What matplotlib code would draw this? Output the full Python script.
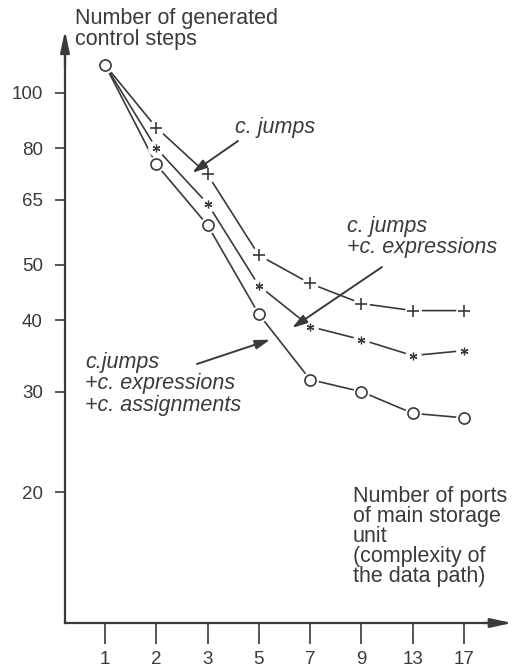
import matplotlib
matplotlib.use('Agg')
import matplotlib.pyplot as plt
from matplotlib.ticker import NullLocator
import numpy as np

# ---- data ----
ports = ['1', '2', '3', '5', '7', '9', '13', '17']
steps_jumps = [112, 87, 72, 52, 46.4, 42.8, 41.6, 41.6]
steps_jumps_expr = [112, 80, 64, 46, 39, 37, 34.7, 35.4]
steps_all = [112, 75, 58.7, 41, 31.5, 30, 27.5, 27]
ytick_vals = [20, 30, 40, 50, 65, 80, 100]
ytick_labels = ['20', '30', '40', '50', '65', '80', '100']

plt.rcParams['font.family'] = ['Liberation Sans', 'DejaVu Sans']
INK = '#3a3a3a'
W, H = 512, 667

fig = plt.figure(figsize=(W / 100, H / 100), dpi=100)
ax = fig.add_axes([65 / W, (H - 623) / H, (505 - 65) / W, (623 - 40) / H])
ax.set_yscale('log')
ax.set_ylim(11.81, 123.8)
ax.set_xlim(-0.78, 7.8)

x = np.arange(len(ports))
series = [
    (steps_jumps, dict(marker='+', ms=9, mew=1.2, mec=INK)),
    (steps_jumps_expr, dict(marker=(6, 2, 0), ms=5.5, mew=0.9, mec=INK)),
    (steps_all, dict(marker='o', ms=8, mew=1.2, mec=INK, mfc='white')),
]
for vals, _ in series:
    ax.plot(x, vals, color=INK, lw=1.2, zorder=1, solid_capstyle='butt')
for vals, _ in series:
    ax.plot(x, vals, ls='none', marker='o', ms=12, mfc='white', mec='none', zorder=2)
for vals, st in series:
    ax.plot(x, vals, ls='none', zorder=3, **st)

# axes styling
for s in ['top', 'right']:
    ax.spines[s].set_visible(False)
for s in ['left', 'bottom']:
    ax.spines[s].set_linewidth(1.6)
    ax.spines[s].set_color(INK)

ax.set_yticks(ytick_vals)
ax.set_yticklabels(ytick_labels)
ax.yaxis.set_minor_locator(NullLocator())
ax.set_xticks(x)
ax.set_xticklabels(ports)
ax.tick_params(axis='y', direction='out', length=7, width=1.2, pad=9,
               labelsize=13.5, colors=INK)
ax.tick_params(axis='x', direction='out', length=15, width=1.2, pad=5,
               labelsize=13.5, colors=INK)

# axis arrow heads
arrow_kw = dict(arrowstyle='-|>,head_length=1.3,head_width=0.28', color=INK,
                lw=1.6, shrinkA=0, shrinkB=0)
ax.annotate('', xy=(0, 1.016), xytext=(0, 0.95), xycoords='axes fraction',
            textcoords='axes fraction', arrowprops=arrow_kw, annotation_clip=False)
ax.annotate('', xy=(1.016, 0), xytext=(0.95, 0), xycoords='axes fraction',
            textcoords='axes fraction', arrowprops=arrow_kw, annotation_clip=False)


def fp(px, py):
    return px / W, 1 - py / H


FS = 15.5
fig.text(*fp(75, 8), 'Number of generated\ncontrol steps', fontsize=FS,
         color=INK, ha='left', va='top', linespacing=1.0)
fig.text(*fp(353, 486), 'Number of ports\nof main storage\nunit\n(complexity of\nthe data path)',
         fontsize=FS, color=INK, ha='left', va='top', linespacing=0.93)
fig.text(*fp(235, 117), 'c. jumps', fontsize=FS, color=INK, style='italic',
         ha='left', va='top')
fig.text(*fp(347, 216), 'c. jumps\n+c. expressions', fontsize=FS, color=INK,
         style='italic', ha='left', va='top', linespacing=1.02)
fig.text(*fp(85, 352), 'c.jumps\n+c. expressions\n+c. assignments', fontsize=FS,
         color=INK, style='italic', ha='left', va='top', linespacing=1.02)

# annotation arrows
ann_kw = dict(arrowstyle='-|>,head_length=0.9,head_width=0.28', color=INK,
              lw=1.4, shrinkA=0, shrinkB=0)
ax.annotate('', xy=(1.70, 72.5), xycoords='data', xytext=(238, H - 141),
            textcoords='figure pixels', arrowprops=ann_kw)
ax.annotate('', xy=(3.65, 38.8), xycoords='data', xytext=(382, H - 267),
            textcoords='figure pixels', arrowprops=ann_kw)
ax.annotate('', xy=(3.22, 37.0), xycoords='data', xytext=(197, H - 364),
            textcoords='figure pixels', arrowprops=ann_kw)

fig.savefig('out.png', dpi=100, facecolor='white')
